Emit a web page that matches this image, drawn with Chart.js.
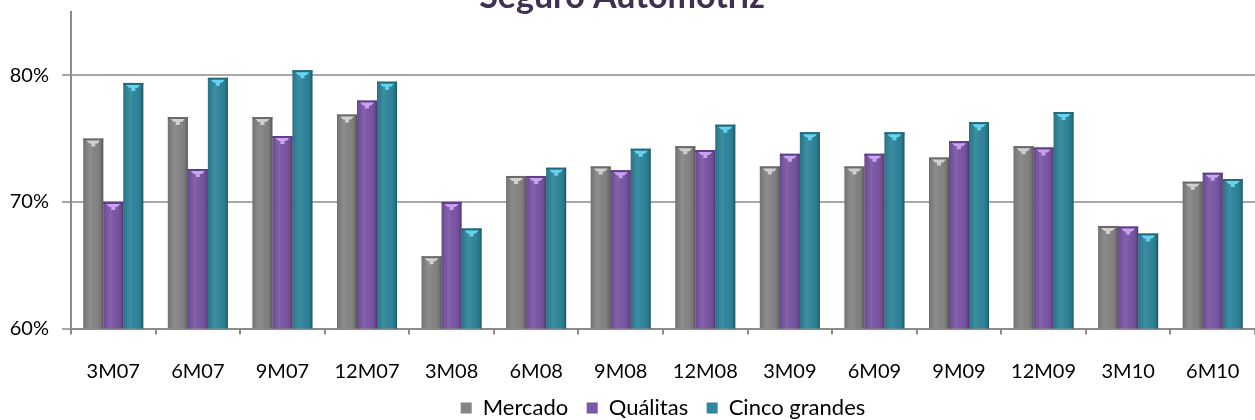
<!DOCTYPE html>
<html>
<head>
<meta charset="utf-8">
<script src="https://cdn.jsdelivr.net/npm/chart.js@4/dist/chart.umd.min.js"></script>
<style>
  html, body { margin: 0; padding: 0; background: #fff; }
  #wrap { width: 1255px; height: 420px; overflow: hidden; position: relative; }
  canvas { display: block; }
</style>
</head>
<body>
<div id="wrap"><canvas id="chart" width="1255" height="429"></canvas></div>
<script>
const chartTitle = "Seguro Automotriz";
const categories = ["3M07", "6M07", "9M07", "12M07", "3M08", "6M08", "9M08", "12M08",
  "3M09", "6M09", "9M09", "12M09", "3M10", "6M10"];
const mercado = [75.0, 76.7, 76.7, 76.9, 65.7, 72.05, 72.8, 74.4, 72.8, 72.8, 73.5, 74.4, 68.1, 71.6];
const qualitas = [70.0, 72.6, 75.2, 78.0, 70.0, 72.05, 72.5, 74.1, 73.8, 73.8, 74.8, 74.3, 68.05, 72.3];
const cincoGrandes = [79.4, 79.8, 80.4, 79.5, 67.9, 72.7, 74.2, 76.1, 75.5, 75.5, 76.3, 77.1, 67.5, 71.8];
const yTicks = [60, 70, 80];

const FONT = "Lato, 'Liberation Sans', sans-serif";
const axisColor = "#8c8c8c";
const gridColor = "#a8a8a8";

// fake the old excel "cylinder" look: side shading + light cap on top
const cylinderShade = {
  id: "cylinderShade",
  afterDatasetsDraw(chart) {
    const ctx = chart.ctx;
    const area = chart.chartArea;
    ctx.save();
    ctx.beginPath();
    ctx.rect(area.left, area.top - 2, area.right - area.left, area.bottom - area.top + 2);
    ctx.clip();
    chart.data.datasets.forEach((ds, i) => {
      const meta = chart.getDatasetMeta(i);
      meta.data.forEach((bar) => {
        const w = bar.width;
        const left = bar.x - w / 2;
        const top = bar.y;
        const h = bar.base - bar.y;
        const g = ctx.createLinearGradient(left, 0, left + w, 0);
        g.addColorStop(0, "rgba(0,0,0,0.16)");
        g.addColorStop(0.12, "rgba(0,0,0,0.05)");
        g.addColorStop(0.35, "rgba(255,255,255,0.07)");
        g.addColorStop(0.7, "rgba(0,0,0,0.02)");
        g.addColorStop(0.88, "rgba(0,0,0,0.12)");
        g.addColorStop(1, "rgba(0,0,0,0.38)");
        ctx.fillStyle = g;
        ctx.fillRect(left, top, w, h);
        // top rim
        ctx.fillStyle = ds.rimColor;
        ctx.fillRect(left, top, w, 2);
        // light cap
        ctx.fillStyle = ds.capColor;
        ctx.beginPath();
        ctx.moveTo(left + 3, top + 2);
        ctx.lineTo(left + w - 3, top + 2);
        ctx.lineTo(left + w - 6, top + 5);
        ctx.lineTo(left + w / 2 + 2, top + 5);
        ctx.lineTo(left + w / 2 + 2, top + 8);
        ctx.lineTo(left + w / 2 - 2, top + 8);
        ctx.lineTo(left + w / 2 - 2, top + 5);
        ctx.lineTo(left + 6, top + 5);
        ctx.closePath();
        ctx.fill();
      });
    });
    ctx.restore();
  },
};

// title is partly cut off at the top of the picture
const cutTitle = {
  id: "cutTitle",
  afterDraw(chart, args, opts) {
    const ctx = chart.ctx;
    ctx.save();
    ctx.font = "bold 34px " + FONT;
    ctx.fillStyle = "#3f3151";
    ctx.textAlign = "center";
    ctx.textBaseline = "alphabetic";
    ctx.fillText(opts.text, opts.x, opts.y);
    ctx.restore();
  },
};

new Chart(document.getElementById("chart"), {
  type: "bar",
  data: {
    labels: categories,
    datasets: [
      {
        label: "Mercado",
        data: mercado,
        backgroundColor: "#858585",
        rimColor: "#6a6a6a",
        capColor: "#d0d0d0",
      },
      {
        label: "Quálitas",
        data: qualitas,
        backgroundColor: "#7b57a6",
        rimColor: "#5e3f85",
        capColor: "#c9a2f2",
      },
      {
        label: "Cinco grandes",
        data: cincoGrandes,
        backgroundColor: "#30869c",
        rimColor: "#236a7c",
        capColor: "#66d4ee",
      },
    ],
  },
  options: {
    responsive: false,
    animation: false,
    layout: { padding: { top: 12, right: 0, bottom: 0, left: 0 } },
    datasets: {
      bar: { categoryPercentage: 0.71, barPercentage: 1.0, borderWidth: 0 },
    },
    plugins: {
      legend: {
        position: "bottom",
        fullSize: false,
        labels: {
          color: "#000",
          boxWidth: 11,
          boxHeight: 11,
          padding: 18.5,
          font: { family: FONT, size: 22 },
        },
      },
      tooltip: { enabled: false },
      cutTitle: { text: chartTitle, x: 622, y: 8 },
    },
    scales: {
      x: {
        offset: true,
        grid: {
          display: true,
          drawOnChartArea: false,
          offset: true,
          tickLength: 6,
          color: axisColor,
          lineWidth: 2,
        },
        border: { color: axisColor, width: 2 },
        ticks: {
          color: "#000",
          padding: 25,
          maxRotation: 0,
          font: { family: FONT, size: 20 },
        },
        afterFit(scale) {
          scale.height = 50;
          scale.paddingLeft = 0;
          scale.paddingRight = 0;
        },
      },
      y: {
        min: 60,
        max: 85,
        afterBuildTicks(axis) {
          axis.ticks = yTicks.map((v) => ({ value: v }));
        },
        grid: { color: gridColor, lineWidth: 2, tickLength: 9 },
        border: { color: axisColor, width: 2 },
        ticks: {
          color: "#000",
          padding: 13,
          font: { family: FONT, size: 20 },
          callback: (v) => v + "%",
        },
        afterFit(scale) {
          scale.width = 71;
          scale.paddingTop = 0;
          scale.paddingBottom = 0;
        },
      },
    },
  },
  plugins: [cylinderShade, cutTitle],
});
</script>
</body>
</html>
